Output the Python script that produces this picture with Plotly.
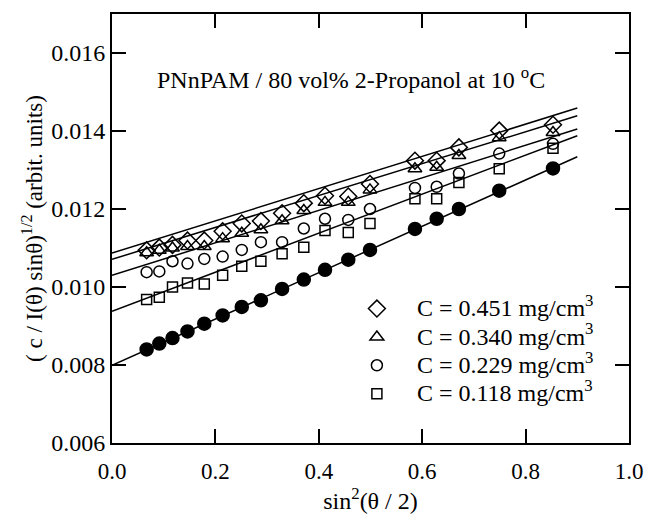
import plotly.graph_objects as go

# sin^2(theta/2)
x_vals = [0.067, 0.0915, 0.117, 0.146, 0.1785, 0.214, 0.251, 0.288, 0.329, 0.371,
          0.412, 0.457, 0.499, 0.586, 0.628, 0.671, 0.749, 0.853]

y_451 = [0.01094, 0.01101, 0.01108, 0.01119, 0.01119, 0.01143, 0.01163, 0.01169, 0.01189, 0.01215,
         0.01234, 0.01232, 0.01264, 0.01324, 0.01324, 0.01358, 0.01401, 0.01416]
y_340 = [0.01088, 0.01094, 0.01100, 0.01104, 0.01104, 0.01124, 0.01138, 0.01147, 0.01170, 0.01196,
         0.01217, 0.01217, 0.01249, 0.01303, 0.01307, 0.01337, 0.01383, 0.01396]
y_229 = [0.01038, 0.01040, 0.01066, 0.01060, 0.01072, 0.01078, 0.01095, 0.01115, 0.01115, 0.01150,
         0.01175, 0.01172, 0.01200, 0.01254, 0.01257, 0.01291, 0.01342, 0.01367]
y_118 = [0.00968, 0.00974, 0.01000, 0.01010, 0.01008, 0.01030, 0.01053, 0.01066, 0.01085, 0.01102,
         0.01145, 0.01140, 0.01163, 0.01226, 0.01226, 0.01268, 0.01303, 0.01356]
y_zero = [0.00840, 0.00855, 0.00869, 0.00886, 0.00906, 0.00927, 0.00949, 0.00966, 0.00995, 0.01019,
          0.01044, 0.01070, 0.01095, 0.01149, 0.01175, 0.01200, 0.01247, 0.01304]

# fitted lines: value at x=0 and value at x=0.9
fit_start = [0.01087, 0.01071, 0.01030, 0.00938, 0.00799]
fit_end = [0.01459, 0.01439, 0.01405, 0.01388, 0.01334]
fit_x = [0.0, 0.9]

labels = ["C = 0.451 mg/cm<sup>3</sup>", "C = 0.340 mg/cm<sup>3</sup>",
          "C = 0.229 mg/cm<sup>3</sup>", "C = 0.118 mg/cm<sup>3</sup>", None]
symbols = ["diamond-open", "triangle-up-open", "circle-open", "square-open", "circle"]
sizes = [13, 12, 11, 10, 13]
series = [y_451, y_340, y_229, y_118, y_zero]

x_ticks = [0.0, 0.2, 0.4, 0.6, 0.8, 1.0]
y_ticks = [0.006, 0.008, 0.010, 0.012, 0.014, 0.016]

FONT = "Liberation Serif"

fig = go.Figure()
for i in range(5):
    fig.add_trace(go.Scatter(x=fit_x, y=[fit_start[i], fit_end[i]], mode="lines",
                             line=dict(color="black", width=1.5), showlegend=False,
                             hoverinfo="skip"))
for i in range(5):
    name = ('<span style="font-size:24px">' + labels[i] + '</span>') if labels[i] else ""
    fig.add_trace(go.Scatter(x=x_vals, y=series[i], mode="markers",
                             marker=dict(symbol=symbols[i], size=sizes[i], color="black",
                                         line=dict(color="black", width=1.5)),
                             name=name,
                             showlegend=labels[i] is not None))

axis_common = dict(showline=True, linecolor="black", linewidth=2, mirror="allticks",
                   ticks="inside", ticklen=14, tickwidth=1.5, tickcolor="black",
                   showgrid=False, zeroline=False)

fig.update_layout(
    width=645, height=517,
    margin=dict(l=112, r=16, t=14, b=74, autoexpand=False),
    plot_bgcolor="white", paper_bgcolor="white",
    font=dict(family=FONT, size=23, color="black"),
    xaxis=dict(range=[0, 1.0], tickvals=x_ticks, tickformat=".1f",
               ticklabelstandoff=6,
               tickfont=dict(family=FONT, size=23, color="black"),
               title=dict(text="sin<sup>2</sup>(θ / 2)", font=dict(family=FONT, size=24), standoff=8),
               **axis_common),
    yaxis=dict(range=[0.006, 0.017], tickvals=y_ticks, tickformat=".3f",
               tickfont=dict(family=FONT, size=24, color="black"),
               title=dict(text="( c / I(θ) sinθ)<sup>1/2</sup> (arbit. units)",
                          font=dict(family=FONT, size=23), standoff=2),
               **axis_common),
    legend=dict(x=0.435, y=0.358, xanchor="left", yanchor="top",
                bgcolor="rgba(0,0,0,0)", font=dict(family=FONT, size=19.5),
                itemwidth=70, tracegroupgap=0),
    annotations=[dict(text="PNnPAM / 80 vol% 2-Propanol at 10 <sup>o</sup>C",
                      xref="paper", yref="paper", x=0.462, y=0.85,
                      xanchor="center", yanchor="middle",
                      showarrow=False, font=dict(family=FONT, size=24))],
)

fig.write_html("out.html",
               config={"displayModeBar": False},
               post_script="document.body.style.margin='0';document.body.style.overflow='hidden';")
